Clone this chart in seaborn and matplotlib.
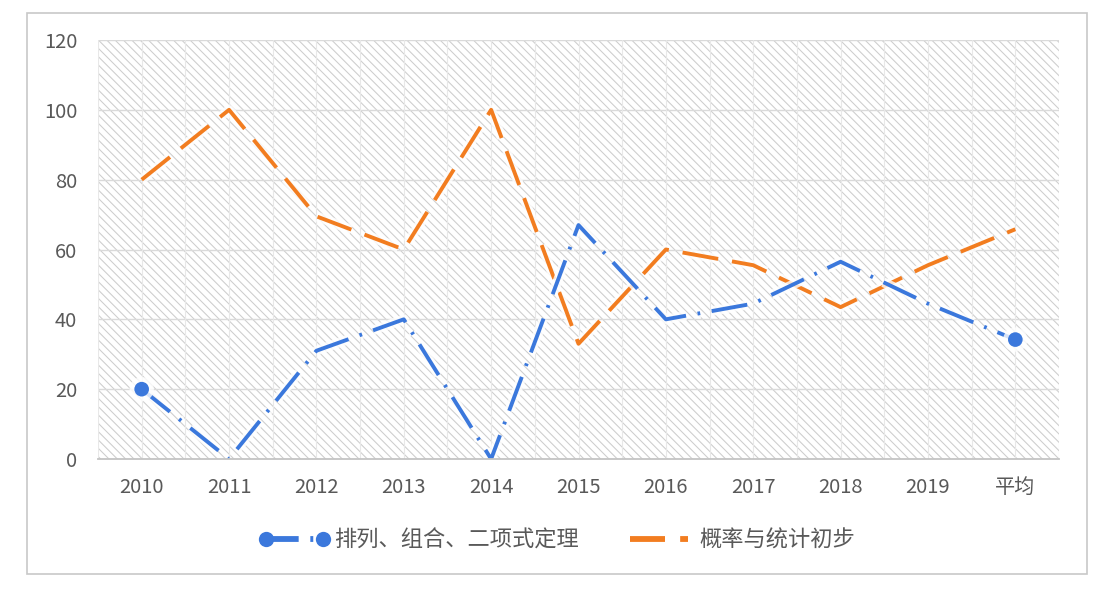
import matplotlib
matplotlib.use("Agg")
import matplotlib.pyplot as plt
import matplotlib.patheffects as pe
from matplotlib.lines import Line2D
from matplotlib.patches import Rectangle
import seaborn as sns
import pandas as pd

categories = ["2010", "2011", "2012", "2013", "2014", "2015", "2016", "2017", "2018", "2019", "平均"]
series_a_name = "排列、组合、二项式定理"
series_b_name = "概率与统计初步"
series_a = [20, 0, 31, 40, 0, 67, 40, 44.5, 56.5, 44.5, 34.2]
series_b = [80, 100, 69.5, 60, 100, 33, 60, 55.5, 43.5, 55.5, 65.8]
y_ticks = [0, 20, 40, 60, 80, 100, 120]

blue = "#3b78dc"
orange = "#f27d20"
text_color = "#595959"

sns.set_theme(style="white")
plt.rcParams['font.family'] = ['Noto Sans CJK SC', 'DejaVu Sans']
plt.rcParams['hatch.linewidth'] = 0.75
plt.rcParams['hatch.color'] = '#cdcdcd'

fig = plt.figure(figsize=(11.12, 6.0), dpi=100)
fig.patch.set_facecolor("white")
fig.patches.append(Rectangle((27 / 1112, 1 - 574 / 600), (1087 - 27) / 1112, (574 - 13) / 600,
                             transform=fig.transFigure, fill=False, edgecolor="#c8c8c8",
                             linewidth=1.2, zorder=0))

ax = fig.add_axes([98 / 1112, 1 - 459 / 600, (1059 - 98) / 1112, (459 - 40) / 600])
ax.set_facecolor("white")

df_a = pd.DataFrame({"cat": categories, "val": series_a})
df_b = pd.DataFrame({"cat": categories, "val": series_b})

halo = [pe.withStroke(linewidth=7, foreground="white", alpha=0.8)]

sns.lineplot(data=df_b, x="cat", y="val", sort=False, ax=ax, color=orange,
             linewidth=2.8, zorder=4)
ax.lines[-1].set_dashes((9.3, 3.6))
ax.lines[-1].set_path_effects(halo)

sns.lineplot(data=df_a, x="cat", y="val", sort=False, ax=ax, color=blue,
             linewidth=2.8, marker="o", markersize=10.5, markeredgewidth=0,
             markevery=[0, len(categories) - 1], zorder=5)
ax.lines[-1].set_dashes((9.3, 3.0, 0.7, 3.0))
ax.lines[-1].set_path_effects(halo)

ax.set_xlim(-0.5, len(categories) - 0.5)
ax.set_ylim(y_ticks[0], y_ticks[-1])
ax.set_yticks(y_ticks)
ax.set_yticklabels([str(t) for t in y_ticks])

# hatched plot background
bg = Rectangle((0, 0), 1, 1, transform=ax.transAxes, facecolor="white",
               edgecolor="#cdcdcd", hatch="\\\\\\\\", linewidth=0, zorder=0)
ax.add_patch(bg)

# grid lines
for t in y_ticks[1:]:
    ax.axhline(t, color="#dadada", linewidth=1.0, zorder=1)
n = len(categories)
for i in range(2 * n + 1):
    ax.axvline(-0.5 + i * 0.5, color="#e8e8e8", linewidth=0.8, zorder=1)

for s in ["top", "right", "left"]:
    ax.spines[s].set_visible(False)
ax.spines["bottom"].set_color("#c4c4c4")
ax.spines["bottom"].set_linewidth(1.3)
ax.spines["bottom"].set_zorder(6)

ax.tick_params(axis="both", length=0, labelsize=14.5, colors=text_color)
ax.tick_params(axis="x", pad=13)
ax.tick_params(axis="y", pad=15)
ax.set_xlabel("")
ax.set_ylabel("")

h_a = Line2D([], [], color=blue, linewidth=4.2, marker="o", markersize=11,
             markeredgewidth=0, dashes=(5.6, 2.0, 0.5, 2.0))
h_b = Line2D([], [], color=orange, linewidth=4.2, dashes=(6.0, 2.6))
if ax.get_legend() is not None:
    ax.get_legend().remove()
fig.legend([h_a, h_b], [series_a_name, series_b_name], loc="center",
           bbox_to_anchor=(557 / 1112, 1 - 540 / 600), ncol=2, frameon=False,
           numpoints=2, handlelength=3.2, columnspacing=2.0, handletextpad=0.2,
           fontsize=16, labelcolor=text_color)

fig.savefig("out.png", dpi=100, facecolor="white")
